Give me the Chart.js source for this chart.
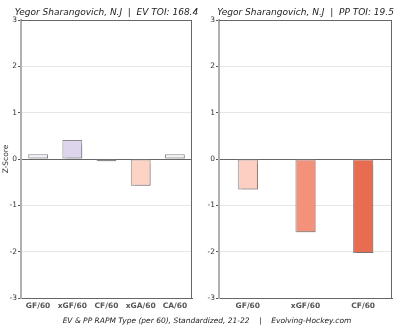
<!DOCTYPE html>
<html lang="en">
<head>
    <meta charset="UTF-8">
    <title>RAPM Z-Scores</title>
    <style>
        body { margin: 0; width: 400px; height: 329px; background: #fff; position: relative; overflow: hidden; font-family: 'DejaVu Sans', sans-serif; }
        .panel { position: absolute; top: 0; width: 200px; height: 318px; }
        #caption { position: absolute; left: 0; width: 414px; top: 316px; text-align: center; font-style: italic; font-size: 7.5px; color: #222; white-space: pre; }
    </style>
</head>
<body>
    <div class="panel" style="left:0"><canvas id="evChart"></canvas></div>
    <div class="panel" style="left:200px"><canvas id="ppChart"></canvas></div>
    <div id="caption">EV &amp; PP RAPM Type (per 60), Standardized, 21-22    |    Evolving-Hockey.com</div>

    <script src="https://cdn.jsdelivr.net/npm/chart.js"></script>
    <script>
        // data
        const evLabels = ['GF/60', 'xGF/60', 'CF/60', 'xGA/60', 'CA/60'];
        const evValues = [0.10, 0.41, -0.05, -0.58, 0.10];
        const evColors = ['#f3f2f8', '#ddd5ec', '#faf6f6', '#fdd3c6', '#f3f2f8'];

        const ppLabels = ['GF/60', 'xGF/60', 'CF/60'];
        const ppValues = [-0.66, -1.58, -2.03];
        const ppColors = ['#fdcfc2', '#f4917a', '#e86c4f'];

        const evTitle = 'Yegor Sharangovich, N.J  |  EV TOI: 168.4';
        const ppTitle = 'Yegor Sharangovich, N.J  |  PP TOI: 19.5';

        const font = 'DejaVu Sans';

        // title over the plot area + frame on top/right + soft bar shadow
        const framePlugin = {
            id: 'frame',
            beforeDatasetsDraw(chart) {
                const ctx = chart.ctx;
                ctx.save();
                ctx.shadowColor = 'rgba(0,0,0,0.18)';
                ctx.shadowOffsetX = 1.5;
                ctx.shadowOffsetY = 1.5;
                ctx.shadowBlur = 1;
            },
            afterDatasetsDraw(chart) {
                chart.ctx.restore();
            },
            afterDraw(chart, args, opts) {
                const { ctx, chartArea: a } = chart;
                ctx.save();
                ctx.strokeStyle = '#666';
                ctx.lineWidth = 1;
                ctx.beginPath();
                ctx.moveTo(a.left, a.top + 0.5);
                ctx.lineTo(a.right - 0.5, a.top + 0.5);
                ctx.lineTo(a.right - 0.5, a.bottom);
                ctx.stroke();
                ctx.fillStyle = '#222';
                ctx.font = 'italic 9px "' + font + '"';
                ctx.textAlign = 'center';
                ctx.textBaseline = 'alphabetic';
                ctx.fillText(opts.text, (a.left + a.right) / 2, 15);
                ctx.restore();
            }
        };

        function makeChart(id, labels, values, colors, title, barPct, yWidth, showTitle) {
            return new Chart(document.getElementById(id), {
                type: 'bar',
                data: {
                    labels: labels,
                    datasets: [{
                        data: values,
                        backgroundColor: colors,
                        borderColor: '#8c8c8c',
                        borderWidth: 1,
                        borderSkipped: false,
                        barPercentage: barPct,
                        categoryPercentage: 1
                    }]
                },
                options: {
                    responsive: true,
                    maintainAspectRatio: false,
                    animation: false,
                    layout: { padding: { top: 20, right: 8, left: 0, bottom: 0 } },
                    plugins: {
                        legend: { display: false },
                        tooltip: { enabled: false },
                        frame: { text: title }
                    },
                    scales: {
                        x: {
                            grid: { display: false, drawTicks: false, tickLength: 0 },
                            border: { display: true, color: '#666', width: 1 },
                            ticks: { color: '#555', padding: 4, maxRotation: 0, autoSkip: false, font: { family: font, size: 7.5, weight: 'bold' } },
                            afterFit(s) { s.height = 20; }
                        },
                        y: {
                            min: -3,
                            max: 3,
                            ticks: { stepSize: 1, color: '#333', padding: 1, font: { family: font, size: 7.5 } },
                            grid: {
                                color: c => (c.tick.value === 0 ? '#666' : (Math.abs(c.tick.value) === 3 ? '#666' : '#e6e6e6')),
                                tickColor: '#555',
                                tickLength: 3
                            },
                            border: { display: true, color: '#b0b0b0', width: 2 },
                            title: { display: showTitle, text: 'Z-Score', color: '#333', padding: { top: 2, bottom: 0 }, font: { family: font, size: 7.5 } },
                            afterFit(s) { s.width = yWidth; }
                        }
                    }
                },
                plugins: [framePlugin]
            });
        }

        makeChart('evChart', evLabels, evValues, evColors, evTitle, 0.58, 21, true);
        makeChart('ppChart', ppLabels, ppValues, ppColors, ppTitle, 0.35, 19, false);
    </script>
</body>
</html>
